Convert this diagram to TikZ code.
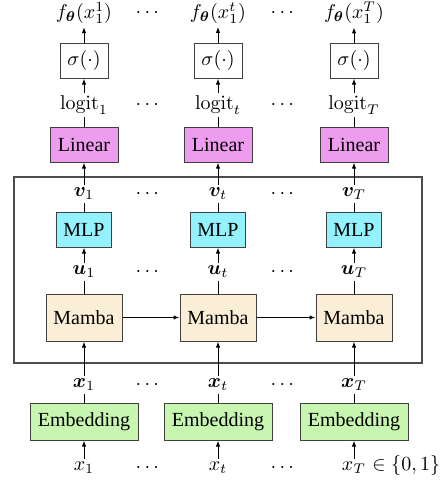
\documentclass[tikz,border=0pt]{standalone}
\usepackage{amsmath}
\usepackage{bm}
\usepackage[no-math]{fontspec}
\setmainfont{Liberation Serif}
\usetikzlibrary{arrows.meta,backgrounds}

\definecolor{linfill}{RGB}{238,156,238}
\definecolor{mlpfill}{RGB}{148,242,255}
\definecolor{mambafill}{RGB}{251,238,214}
\definecolor{embfill}{RGB}{198,246,176}

\tikzset{
  blk/.style={draw=black!75, line width=0.5pt, inner sep=0pt, font=\normalsize},
  sigbox/.style={blk, fill=white, minimum width=24pt, minimum height=17.5pt},
  linbox/.style={blk, fill=linfill, minimum width=34pt, minimum height=17.5pt},
  mlpbox/.style={blk, fill=mlpfill, minimum width=27.5pt, minimum height=17.5pt},
  mambabox/.style={blk, fill=mambafill, minimum width=38pt, minimum height=23.5pt},
  embbox/.style={blk, fill=embfill, minimum width=54pt, minimum height=18.5pt},
  lbl/.style={fill=white, inner sep=1.5pt},
  dotsnode/.style={inner sep=1pt},
  conn/.style={line width=0.5pt, -{Latex[length=3pt,width=2.2pt]}},
  frameline/.style={draw=black!70, line width=0.6pt}
}

\begin{document}
\begin{tikzpicture}[x=0.5pt,y=-0.5pt]
  \useasboundingbox (0,0) rectangle (443,487);

  % processing blocks, one column per time step
  \foreach \c/\cx in {1/84, t/218, T/354}{
    \node[sigbox]   (sig\c)   at (\cx,60.5)  {$\sigma(\cdot)$};
    \node[linbox]   (lin\c)   at (\cx,144.5) {Linear};
    \node[mlpbox]   (mlp\c)   at (\cx,229.5) {MLP};
    \node[mambabox] (mamba\c) at (\cx,317.5) {Mamba};
    \node[embbox]   (emb\c)   at (\cx,421.5) {Embedding};
  }

  % outputs and intermediate quantities
  \node[lbl] (f1) at (84,13)  {$f_{\bm{\theta}}(x_1^1)$};
  \node[lbl] (ft) at (218,13) {$f_{\bm{\theta}}(x_1^t)$};
  \node[lbl] (fT) at (354,13) {$f_{\bm{\theta}}(x_1^T)$};

  \node[lbl] (logit1) at (84,105)  {$\mathrm{logit}_1$};
  \node[lbl] (logitt) at (218,105) {$\mathrm{logit}_t$};
  \node[lbl] (logitT) at (354,105) {$\mathrm{logit}_T$};

  \node[lbl] (v1) at (84,194)  {$\bm{v}_1$};
  \node[lbl] (vt) at (218,194) {$\bm{v}_t$};
  \node[lbl] (vT) at (354,194) {$\bm{v}_T$};

  \node[lbl] (u1) at (84,272)  {$\bm{u}_1$};
  \node[lbl] (ut) at (218,272) {$\bm{u}_t$};
  \node[lbl] (uT) at (354,272) {$\bm{u}_T$};

  \node[lbl] (xb1) at (84,385)  {$\bm{x}_1$};
  \node[lbl] (xbt) at (218,385) {$\bm{x}_t$};
  \node[lbl] (xbT) at (354,385) {$\bm{x}_T$};

  \node[lbl] (x1) at (84,468)  {$x_1$};
  \node[lbl] (xt) at (218,468) {$x_t$};
  \node[lbl] (xT) at (354,468) {$x_T$};
  \node[anchor=base west, inner sep=0pt, xshift=-1.5pt] (xset) at (xT.base east) {$\;\in\{0,1\}$};

  % ellipses between columns
  \foreach \r/\y in {f/13, l/105, v/194, u/272, xb/385, x/468}{
    \node[dotsnode] (dotsA\r) at (149,\y) {$\cdots$};
    \node[dotsnode] (dotsB\r) at (284,\y) {$\cdots$};
  }

  \begin{pgfonlayer}{background}
    % frame around the sequence model
    \draw[frameline] (14,177) rectangle (422,363);
    \foreach \c in {1,t,T}{
      \draw[conn] (x\c)     -- (emb\c);
      \draw[conn] (emb\c)   -- (mamba\c);
      \draw[conn] (mamba\c) -- (mlp\c);
      \draw[conn] (mlp\c)   -- (lin\c);
      \draw[conn] (lin\c)   -- (sig\c);
      \draw[conn] (sig\c)   -- (f\c);
    }
    \draw[conn] (mamba1) -- (mambat);
    \draw[conn] (mambat) -- (mambaT);
  \end{pgfonlayer}
\end{tikzpicture}
\end{document}
